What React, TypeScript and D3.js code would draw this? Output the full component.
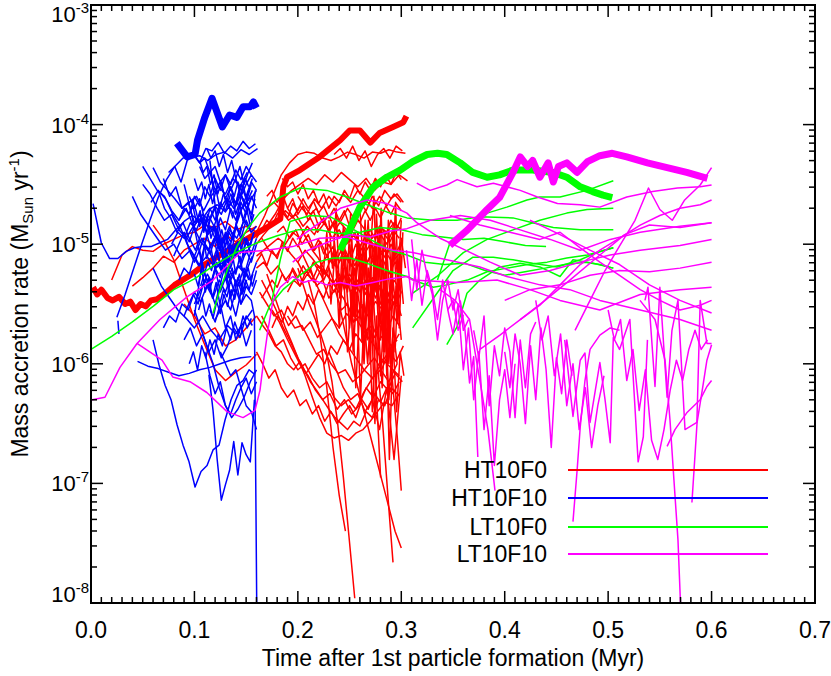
import React, { useEffect, useRef } from 'react';
import * as d3 from 'd3';

// points are [time after 1st particle formation (Myr), log10 accretion rate (MSun/yr)]
type Pt = [number, number];
// evenly sampled track: start time, time step, log10 rates
type Run = { t0: number; dt: number; v: number[] };

const xTicks = [0, 0.1, 0.2, 0.3, 0.4, 0.5, 0.6, 0.7];
const yDecades = [-8, -7, -6, -5, -4, -3];
const legendNames = ['HT10F0', 'HT10F10', 'LT10F0', 'LT10F10'];
const legendColors = ['#ff0000', '#0000ff', '#00ff00', '#ff00ff'];

// ---- thick (most massive sink) tracks ----
const redThick: Pt[] = [
  [0.002, -5.36], [0.006, -5.42], [0.01, -5.38], [0.016, -5.45], [0.021, -5.47], [0.027, -5.44],
  [0.033, -5.5], [0.038, -5.48], [0.043, -5.55], [0.048, -5.5], [0.053, -5.52], [0.058, -5.47],
  [0.064, -5.46], [0.072, -5.41], [0.081, -5.34], [0.096, -5.26], [0.11, -5.17], [0.125, -5.09],
  [0.144, -4.99], [0.16, -4.91], [0.172, -4.85], [0.183, -4.79], [0.186, -4.52], [0.1895, -4.44],
  [0.202, -4.38], [0.221, -4.27], [0.241, -4.13], [0.25, -4.05], [0.26, -4.05], [0.27, -4.15],
  [0.279, -4.07], [0.292, -4.02], [0.302, -3.98], [0.305, -3.93],
];
const blueThick: Pt[] = [
  [0.083, -4.155], [0.093, -4.27], [0.1006, -4.25], [0.103, -4.13], [0.11, -3.94], [0.117, -3.78],
  [0.127, -4.02], [0.134, -3.92], [0.141, -3.94], [0.147, -3.85], [0.154, -3.85], [0.157, -3.81],
  [0.16, -3.86],
];
const greenThick: Pt[] = [
  [0.241, -5.05], [0.25, -4.88], [0.26, -4.69], [0.273, -4.52], [0.286, -4.44], [0.299, -4.38],
  [0.311, -4.31], [0.325, -4.25], [0.335, -4.24], [0.344, -4.25], [0.357, -4.32], [0.369, -4.4],
  [0.383, -4.44], [0.395, -4.42], [0.408, -4.38], [0.427, -4.38], [0.447, -4.4], [0.46, -4.44],
  [0.473, -4.52], [0.485, -4.56], [0.495, -4.59], [0.504, -4.61],
];
const magentaThick: Pt[] = [
  [0.347, -5.01], [0.364, -4.88], [0.383, -4.71], [0.395, -4.61], [0.408, -4.4], [0.415, -4.27],
  [0.422, -4.35], [0.427, -4.3], [0.434, -4.44], [0.442, -4.32], [0.447, -4.48], [0.452, -4.35],
  [0.46, -4.32], [0.47, -4.4], [0.48, -4.31], [0.492, -4.26], [0.504, -4.24], [0.518, -4.27],
  [0.538, -4.32], [0.557, -4.36], [0.576, -4.4], [0.596, -4.45],
];

// ---- HT10F0 (red) thin tracks ----
const redRuns: Run[] = [
  { t0: 0.02, dt: 0.01, v: [-5.3, -5.09, -5.02, -5.05, -5.06, -5.0, -4.96, -4.92, -4.9, -4.84, -4.86, -4.81, -4.88, -4.85, -4.9] },
  { t0: 0.06, dt: 0.01, v: [-4.84, -4.96, -5.13, -5.38, -5.63, -5.84, -6.05, -6.14, -6.07, -6.01, -5.92] },
  { t0: 0.04, dt: 0.01, v: [-5.35, -5.28, -5.2, -5.1, -5.15, -5.05, -5.0, -4.95, -5.02, -4.92, -4.98, -4.9, -4.85] },
  { t0: 0.09, dt: 0.01, v: [-5.5, -5.6, -5.75, -5.7, -5.85, -5.8, -5.7, -5.6] },
  { t0: 0.16, dt: 0.008, v: [-4.9, -4.76, -4.59, -4.42, -4.32, -4.25, -4.23, -4.24, -4.28, -4.3, -4.27, -4.23, -4.25, -4.28, -4.23, -4.24, -4.21, -4.23, -4.24] },
  { t0: 0.235, dt: 0.006, v: [-4.25, -4.2, -4.28, -4.18, -4.3, -4.22, -4.35, -4.25, -4.2, -4.28, -4.18, -4.22] },
  { t0: 0.17, dt: 0.008, v: [-4.85, -4.75, -4.62, -4.55, -4.5, -4.45, -4.5, -4.42, -4.48, -4.4, -4.46, -4.52, -4.45, -4.55, -4.48, -4.5, -4.42, -4.47] },
  { t0: 0.16, dt: 0.007, v: [-5.0, -4.92, -4.85, -4.8, -4.72, -4.78, -4.68, -4.75, -4.62, -4.7, -4.6, -4.68, -4.58, -4.65, -4.55, -4.62, -4.7, -4.6, -4.68, -4.58, -4.65] },
  { t0: 0.16, dt: 0.007, v: [-5.1, -5.05, -5.0, -4.95, -5.0, -4.9, -4.95, -4.85, -4.92, -4.8, -4.88, -4.78, -4.85, -4.92, -4.8, -4.88, -4.95, -4.85, -4.9, -4.82, -4.88] },
  { t0: 0.165, dt: 0.007, v: [-4.95, -5.05, -5.1, -5.0, -5.08, -5.15, -5.05, -5.12, -5.2, -5.1, -5.18, -5.05, -5.15, -5.22, -5.1, -5.0, -5.12, -5.05, -5.15, -5.08] },
  { t0: 0.16, dt: 0.007, v: [-5.2, -5.15, -5.25, -5.18, -5.3, -5.22, -5.35, -5.25, -5.32, -5.2, -5.28, -5.35, -5.25, -5.4, -5.3, -5.38, -5.28, -5.35, -5.45, -5.3, -5.4] },
  { t0: 0.17, dt: 0.007, v: [-4.7, -4.65, -4.72, -4.8, -4.75, -4.85, -4.78, -4.9, -4.82, -4.95, -4.88, -5.0, -4.92, -5.05, -4.95, -5.02, -4.9, -4.98, -4.85] },
  { t0: 0.18, dt: 0.006, v: [-4.9, -4.85, -4.95, -4.88, -5.0, -4.92, -5.05, -4.98, -5.1, -5.02, -5.15, -5.05, -5.18, -5.08, -5.2, -5.1, -5.22, -5.12, -5.25, -5.15, -5.2] },
  { t0: 0.19, dt: 0.006, v: [-5.4, -5.3, -5.35, -5.22, -5.3, -5.18, -5.25, -5.12, -5.2, -5.05, -5.15, -5.0, -5.1, -4.95, -5.05, -4.92, -5.0, -4.88, -4.95] },
  { t0: 0.2, dt: 0.006, v: [-4.6, -4.68, -4.75, -4.7, -4.82, -4.76, -4.88, -4.8, -4.7, -4.78, -4.65, -4.72, -4.6, -4.68, -4.55, -4.62, -4.58, -4.65] },
  { t0: 0.163, dt: 0.007, v: [-5.4, -5.5, -5.6, -5.55, -5.68, -5.6, -5.72, -5.65, -5.78, -5.7, -5.62, -5.7, -5.58, -5.65, -5.52, -5.6, -5.48, -5.55, -5.45, -5.52] },
  { t0: 0.165, dt: 0.007, v: [-5.6, -5.72, -5.85, -5.8, -5.95, -6.05, -6.0, -6.12, -6.2, -6.15, -6.28, -6.35, -6.3, -6.38, -6.25, -6.15, -6.05, -5.95, -5.85, -5.75] },
  { t0: 0.165, dt: 0.007, v: [-5.3, -5.42, -5.55, -5.7, -5.82, -5.95, -6.1, -6.28, -6.45, -6.58, -6.62, -6.6, -6.64, -6.58, -6.55, -6.48, -6.4, -6.32, -6.35, -6.25] },
  { t0: 0.175, dt: 0.007, v: [-5.55, -5.65, -5.78, -5.9, -6.02, -6.1, -6.22, -6.3, -6.25, -6.38, -6.3, -6.42, -6.35, -6.2, -6.28, -6.15, -6.22, -6.08, -6.15] },
  { t0: 0.19, dt: 0.007, v: [-5.6, -5.7, -5.68, -5.8, -5.92, -5.88, -6.0, -6.08, -6.05, -6.15, -6.1, -6.02, -5.95, -6.05, -5.9, -5.98, -5.85] },
  { t0: 0.2, dt: 0.0055, v: [-5.2, -5.35, -5.5, -5.62, -5.75, -5.9, -6.15, -6.5, -6.95, -7.45, -7.96] },
  { t0: 0.21, dt: 0.006, v: [-5.3, -5.5, -5.8, -6.2, -6.7, -7.1, -7.4] },
  { t0: 0.255, dt: 0.005, v: [-5.4, -5.0, -5.6, -5.2, -6.1, -6.95] },
  { t0: 0.262, dt: 0.005, v: [-5.5, -5.8, -5.3, -6.0, -6.5, -7.1, -7.66] },
  { t0: 0.28, dt: 0.004, v: [-5.6, -5.3, -5.8, -6.2, -6.6, -7.06] },
  { t0: 0.24, dt: 0.006, v: [-5.5, -5.75, -6.0, -6.2, -6.4, -6.6, -6.8, -7.0, -7.2, -7.4, -7.54] },
  { t0: 0.25, dt: 0.004, v: [-5.0, -5.6, -4.9, -5.8, -5.1, -6.0, -5.0, -5.7, -5.05, -6.1, -5.2, -5.9, -5.1, -5.5] },
  { t0: 0.26, dt: 0.004, v: [-4.7, -5.3, -4.8, -5.6, -4.75, -5.4, -4.9, -5.8, -4.85, -5.5, -4.95, -5.2] },
  { t0: 0.27, dt: 0.0035, v: [-5.1, -4.6, -5.5, -4.7, -5.9, -4.8, -5.4, -4.65, -5.7, -4.9] },
  { t0: 0.235, dt: 0.005, v: [-4.95, -5.4, -5.1, -5.7, -5.2, -5.55, -5.05, -5.85, -5.25, -5.65, -5.15, -6.0, -5.35, -5.8] },
  { t0: 0.23, dt: 0.007, v: [-5.9, -6.05, -6.2, -6.3, -6.25, -6.4, -6.3, -6.55, -6.2, -6.8, -6.1] },
  { t0: 0.2, dt: 0.008, v: [-5.0, -5.15, -5.3, -5.45, -5.6, -5.75, -5.85, -5.95, -6.05, -6.12, -6.05, -6.15, -6.0] },
  { t0: 0.16, dt: 0.005, v: [-4.95, -4.88, -4.8, -4.85, -4.75, -4.7, -4.78, -4.66, -4.72, -4.62, -4.7, -4.64, -4.74, -4.68, -4.78, -4.7, -4.8, -4.72, -4.85, -4.76, -4.82, -4.72, -4.8, -4.7, -4.78, -4.68, -4.75, -4.66, -4.72] },
  { t0: 0.16, dt: 0.005, v: [-5.15, -5.08, -5.18, -5.05, -5.12, -4.98, -5.06, -4.95, -5.02, -4.9, -4.98, -5.05, -4.96, -5.08, -5.0, -5.12, -5.02, -5.15, -5.06, -5.18, -5.08, -5.2, -5.1, -5.15, -5.05, -5.12, -5.0, -5.08, -4.98] },
  { t0: 0.165, dt: 0.005, v: [-5.45, -5.38, -5.3, -5.36, -5.25, -5.32, -5.2, -5.28, -5.18, -5.25, -5.15, -5.22, -5.3, -5.2, -5.32, -5.25, -5.38, -5.28, -5.4, -5.3, -5.42, -5.32, -5.45, -5.35, -5.48, -5.38, -5.5, -5.4] },
  { t0: 0.17, dt: 0.005, v: [-4.6, -4.55, -4.65, -4.58, -4.7, -4.62, -4.75, -4.68, -4.8, -4.72, -4.85, -4.78, -4.9, -4.82, -4.95, -4.88, -4.98, -4.9, -5.02, -4.94, -4.88, -4.96, -4.85, -4.92, -4.8, -4.88, -4.78] },
  { t0: 0.175, dt: 0.005, v: [-5.7, -5.6, -5.65, -5.52, -5.6, -5.48, -5.55, -5.42, -5.5, -5.38, -5.45, -5.32, -5.4, -5.28, -5.36, -5.25, -5.32, -5.4, -5.3, -5.45, -5.35, -5.5, -5.4, -5.55, -5.45, -5.6] },
  { t0: 0.185, dt: 0.005, v: [-4.45, -4.52, -4.48, -4.58, -4.5, -4.62, -4.55, -4.66, -4.58, -4.7, -4.6, -4.65, -4.55, -4.62, -4.5, -4.58, -4.48, -4.55, -4.45, -4.52, -4.42, -4.5, -4.4, -4.46] },
  { t0: 0.16, dt: 0.006, v: [-5.9, -6.0, -6.12, -6.05, -6.2, -6.28, -6.22, -6.35, -6.3, -6.42, -6.35, -6.48, -6.4, -6.5, -6.42, -6.35, -6.45, -6.3, -6.38, -6.25, -6.32, -6.2, -6.25, -6.15] },
  { t0: 0.17, dt: 0.006, v: [-5.25, -5.4, -5.55, -5.7, -5.82, -5.95, -6.05, -6.15, -6.22, -6.3, -6.38, -6.45, -6.5, -6.55, -6.48, -6.52, -6.4, -6.45, -6.3, -6.35, -6.2, -6.25] },
  { t0: 0.22, dt: 0.004, v: [-5.0, -5.3, -4.9, -5.5, -5.05, -5.7, -5.1, -5.4, -4.95, -5.6, -5.15, -5.9, -5.2, -5.5, -5.0, -5.8, -5.25, -6.0, -5.3, -5.65, -5.1] },
  { t0: 0.23, dt: 0.0035, v: [-4.8, -5.2, -4.7, -5.45, -4.85, -5.3, -4.75, -5.6, -4.9, -5.35, -4.8, -5.7, -5.0, -5.4, -4.85, -5.9, -5.05, -5.5, -4.9, -5.3, -4.8] },
  { t0: 0.24, dt: 0.004, v: [-5.6, -5.2, -5.9, -5.4, -6.2, -5.5, -6.0, -5.3, -6.4, -5.6, -6.1, -5.45, -6.3, -5.7, -6.0] },
  { t0: 0.25, dt: 0.0035, v: [-5.3, -5.9, -5.4, -6.3, -5.6, -6.0, -5.5, -6.5, -5.7, -6.2, -5.6, -6.8, -5.8, -6.4, -5.9, -6.1] },
  { t0: 0.19, dt: 0.006, v: [-4.7, -4.78, -4.85, -4.95, -5.05, -5.12, -5.22, -5.3, -5.38, -5.45, -5.55, -5.62, -5.7, -5.78, -5.85, -5.95, -6.0, -6.05, -6.1] },
  { t0: 0.2, dt: 0.006, v: [-5.15, -5.25, -5.2, -5.35, -5.3, -5.45, -5.38, -5.55, -5.5, -5.65, -5.6, -5.72, -5.68, -5.8, -5.75, -5.85, -5.8] },
  { t0: 0.16, dt: 0.006, v: [-5.6, -5.68, -5.75, -5.85, -5.9, -6.0, -6.05, -5.98, -6.08, -6.0, -5.92, -6.0, -5.85, -5.92, -5.8, -5.88, -5.75, -5.82, -5.7, -5.78, -5.65, -5.72, -5.6, -5.68] },
];

// ---- HT10F10 (blue) thin tracks ----
const blueRuns: Run[] = [
  { t0: 0.002, dt: 0.008, v: [-4.66, -4.99, -5.12, -5.12, -5.06, -5.03, -5.02, -5.02, -4.99, -4.96, -4.88, -4.81, -4.76, -4.81, -4.71, -4.67, -4.73, -4.63, -4.7, -4.61] },
  { t0: 0.025, dt: 0.008, v: [-5.61, -5.42, -5.21, -5.0, -4.8, -4.61, -4.46, -4.35, -4.28, -4.27, -4.26, -4.3, -4.25, -4.23, -4.28, -4.21, -4.25, -4.2] },
  { t0: 0.045, dt: 0.01, v: [-5.98, -6.02, -6.04, -6.07, -6.1, -6.08, -6.05, -6.03, -6.0, -5.97, -5.95, -5.94] },
  { t0: 0.06, dt: 0.0058, v: [-5.8, -6.01, -6.18, -6.3, -6.51, -6.68, -6.82, -7.03, -6.9, -6.85, -6.72, -6.68, -6.47, -6.3, -6.18, -6.14, -6.05, -6.09] },
  { t0: 0.114, dt: 0.004, v: [-6.09, -6.39, -6.8, -7.14, -7.01, -6.89, -6.65, -6.93, -6.66, -6.76, -6.82, -6.3] },
  { t0: 0.026, dt: 0.001, v: [-5.64, -5.75] },
  { t0: 0.075, dt: 0.006, v: [-4.4, -4.35, -4.48, -4.3, -4.25, -4.32, -4.2, -4.22, -4.15, -4.24, -4.18, -4.22, -4.14, -4.2, -4.16] },
  { t0: 0.05, dt: 0.007, v: [-4.35, -4.45, -4.55, -4.6, -4.72, -4.8, -4.7, -4.85, -4.78, -4.92, -4.85, -5.0, -4.88, -4.95, -4.8, -4.9] },
  { t0: 0.058, dt: 0.007, v: [-4.65, -4.55, -4.62, -4.75, -4.85, -5.0, -5.1, -4.95, -5.05, -5.2, -5.12, -5.3, -5.18, -5.25, -5.1] },
  { t0: 0.065, dt: 0.006, v: [-4.55, -4.7, -4.78, -4.9, -4.82, -4.95, -5.05, -4.9, -4.75, -4.85, -4.7, -4.62, -4.78, -4.55, -4.68, -4.5] },
  { t0: 0.08, dt: 0.005, v: [-5.1, -5.0, -4.9, -4.98, -4.85, -4.75, -4.88, -4.7, -4.8, -4.65, -4.72, -4.58, -4.66, -4.5, -4.62, -4.48, -4.55] },
  { t0: 0.085, dt: 0.005, v: [-5.3, -5.2, -5.25, -5.1, -5.18, -5.0, -5.08, -4.95, -5.05, -4.9, -4.98, -4.85, -4.95, -4.8, -4.9, -4.85] },
  { t0: 0.09, dt: 0.005, v: [-4.9, -5.05, -5.15, -5.05, -5.25, -5.35, -5.2, -5.4, -5.28, -5.45, -5.3, -5.5, -5.35, -5.42, -5.3] },
  { t0: 0.095, dt: 0.005, v: [-4.6, -4.7, -4.62, -4.8, -4.9, -4.85, -5.0, -4.92, -5.1, -5.02, -5.18, -5.05, -5.15, -5.0] },
  { t0: 0.1, dt: 0.005, v: [-5.5, -5.4, -5.3, -5.38, -5.2, -5.28, -5.1, -5.2, -5.05, -5.15, -4.98, -5.08, -4.95] },
  { t0: 0.07, dt: 0.006, v: [-5.7, -5.6, -5.65, -5.5, -5.55, -5.4, -5.48, -5.35, -5.45, -5.3, -5.4, -5.25, -5.35, -5.2, -5.3, -5.15] },
  { t0: 0.105, dt: 0.005, v: [-4.35, -4.45, -4.4, -4.55, -4.48, -4.62, -4.52, -4.68, -4.58, -4.7, -4.62, -4.55] },
  { t0: 0.11, dt: 0.005, v: [-5.0, -4.85, -4.95, -4.78, -4.88, -4.7, -4.8, -4.65, -4.75, -4.6, -4.7] },
  { t0: 0.06, dt: 0.008, v: [-5.2, -5.35, -5.45, -5.55, -5.62, -5.7, -5.6, -5.72, -5.8, -5.68, -5.75, -5.65, -5.55] },
  { t0: 0.09, dt: 0.006, v: [-5.8, -5.7, -5.85, -5.75, -5.9, -5.8, -5.95, -5.85, -5.7, -5.78, -5.6, -5.68] },
  { t0: 0.1, dt: 0.005, v: [-4.25, -4.32, -4.28, -4.4, -4.35, -4.48, -4.42, -4.55, -4.45, -4.6, -4.5, -4.42, -4.48] },
  { t0: 0.12, dt: 0.004, v: [-4.9, -5.05, -4.95, -5.15, -5.05, -5.25, -5.1, -5.3, -5.2, -5.35, -5.22] },
  { t0: 0.115, dt: 0.005, v: [-5.55, -5.65, -5.5, -5.7, -5.6, -5.8, -5.68, -5.85, -5.72] },
  { t0: 0.125, dt: 0.005, v: [-5.9, -6.0, -6.1, -6.05, -6.2, -6.12, -6.25, -6.15] },
  { t0: 0.05, dt: 0.007, v: [-4.5, -4.58, -4.7, -4.8, -4.75, -4.88, -4.95, -4.85, -4.98, -5.05, -4.95, -5.1, -5.0, -5.05, -4.92] },
  { t0: 0.06, dt: 0.007, v: [-4.36, -4.48, -4.55, -4.62, -4.7, -4.65, -4.6, -4.72, -4.6, -4.52, -4.58, -4.45, -4.52, -4.4] },
  { t0: 0.04, dt: 0.008, v: [-4.6, -4.75, -4.85, -4.95, -5.05, -5.0, -5.12, -5.05, -5.18, -5.1, -5.2, -5.15, -5.25, -5.18, -5.28] },
  { t0: 0.1, dt: 0.006, v: [-5.55, -5.7, -5.85, -6.0, -6.2, -6.35, -6.45, -6.38, -6.28, -6.15, -6.05] },
  { t0: 0.11, dt: 0.005, v: [-5.9, -6.1, -6.25, -6.15, -6.35, -6.42, -6.3, -6.2, -6.35, -6.4, -6.55] },
  { t0: 0.1, dt: 0.0035, v: [-4.45, -4.55, -4.48, -4.62, -4.5, -4.66, -4.55, -4.7, -4.58, -4.64, -4.52, -4.6, -4.48, -4.56, -4.45, -4.52] },
  { t0: 0.095, dt: 0.0035, v: [-4.75, -4.68, -4.82, -4.72, -4.9, -4.78, -4.95, -4.85, -4.98, -4.88, -5.02, -4.9, -4.96, -4.84, -4.92, -4.8] },
  { t0: 0.105, dt: 0.0035, v: [-5.05, -4.95, -5.12, -5.0, -5.18, -5.05, -5.22, -5.1, -5.15, -5.02, -5.1, -4.98, -5.06, -4.95, -5.02, -4.9] },
  { t0: 0.1, dt: 0.0035, v: [-5.25, -5.35, -5.2, -5.4, -5.28, -5.45, -5.32, -5.5, -5.38, -5.44, -5.3, -5.4, -5.28, -5.36, -5.22, -5.3] },
  { t0: 0.105, dt: 0.0035, v: [-4.3, -4.4, -4.35, -4.5, -4.42, -4.58, -4.48, -4.62, -4.7, -4.6, -4.75, -4.65, -4.8, -4.7, -4.85, -4.75] },
  { t0: 0.104, dt: 0.0035, v: [-5.55, -5.45, -5.6, -5.5, -5.62, -5.48, -5.58, -5.42, -5.52, -5.38, -5.46, -5.32, -5.42, -5.3, -5.38, -5.25] },
  { t0: 0.098, dt: 0.0035, v: [-4.62, -4.72, -4.85, -4.78, -4.92, -5.02, -4.95, -5.1, -5.2, -5.12, -5.28, -5.2, -5.35, -5.25, -5.4, -5.3] },
  { t0: 0.106, dt: 0.0035, v: [-5.35, -5.25, -5.15, -5.22, -5.08, -5.0, -5.1, -4.92, -4.85, -4.95, -4.8, -4.72, -4.82, -4.68, -4.75, -4.62] },
  { t0: 0.07, dt: 0.006, v: [-4.45, -4.6, -4.52, -4.7, -4.65, -4.82, -4.75, -4.9, -4.85, -5.0, -4.92, -5.05, -4.98, -5.1, -5.02] },
  { t0: 0.078, dt: 0.006, v: [-5.0, -4.9, -4.95, -4.82, -4.88, -4.75, -4.8, -4.68, -4.75, -4.62, -4.7, -4.58, -4.66, -4.55] },
  { t0: 0.085, dt: 0.005, v: [-4.8, -4.7, -4.75, -4.6, -4.68, -4.52, -4.6, -4.45, -4.55, -4.42, -4.5, -4.38, -4.46, -4.35, -4.42] },
  { t0: 0.09, dt: 0.0045, v: [-5.6, -5.5, -5.42, -5.5, -5.35, -5.25, -5.32, -5.15, -5.22, -5.08, -5.15, -5.0, -5.08, -4.95, -5.02, -4.9] },
  { t0: 0.095, dt: 0.004, v: [-6.0, -5.9, -6.05, -5.85, -5.95, -5.8, -5.92, -5.75, -5.85, -5.7, -5.8, -5.65, -5.75, -5.6, -5.7, -5.62] },
  { t0: 0.112, dt: 0.004, v: [-4.2, -4.28, -4.22, -4.35, -4.25, -4.4, -4.3, -4.45, -4.35, -4.5, -4.4, -4.32] },
  { t0: 0.09, dt: 0.006, v: [-4.5, -4.7, -4.95, -5.2, -5.35, -5.5, -5.3, -5.1, -4.9, -4.75, -4.6, -4.45] },
  { t0: 0.1, dt: 0.005, v: [-5.6, -5.3, -5.0, -4.8, -4.7, -4.9, -5.2, -5.45, -5.6, -5.4, -5.2, -5.05] },
  { t0: 0.115, dt: 0.004, v: [-4.3, -4.6, -4.9, -5.1, -5.3, -5.15, -4.9, -4.7, -4.5, -4.65, -4.8, -4.55] },
];
const blueDrop: Pt[] = [
  [0.12, -5.63], [0.125, -5.55], [0.13, -5.47], [0.135, -5.55], [0.14, -5.38], [0.145, -5.5],
  [0.15, -5.42], [0.155, -5.47], [0.158, -5.6], [0.1605, -8.3],
];

// ---- LT10F0 (green) thin tracks ----
const greenA: Pt[] = [
  [0.118, -5.575], [0.1247, -5.38], [0.1325, -5.2], [0.141, -5.02], [0.152, -4.86], [0.163, -4.74],
  [0.183, -4.605], [0.202, -4.53], [0.228, -4.55], [0.2475, -4.605], [0.267, -4.67], [0.286, -4.73],
  [0.3055, -4.78], [0.331, -4.8], [0.354, -4.8], [0.376, -4.77], [0.408, -4.78], [0.427, -4.82],
  [0.447, -4.86], [0.473, -4.88], [0.505, -4.88],
];
const greenB: Run = {
  t0: 0, dt: 0.02,
  v: [-5.88, -5.77, -5.65, -5.52, -5.38, -5.29, -5.17, -5.07, -4.99, -4.93, -4.88, -4.88, -4.91, -4.9, -4.86, -4.88, -4.92, -4.94, -4.96, -4.95, -4.98, -5.01, -5.02],
};
const greenD: Pt[] = [
  [0.163, -5.72], [0.173, -5.51], [0.1856, -5.38], [0.202, -5.26], [0.2185, -5.15], [0.234, -5.115],
  [0.2504, -5.115], [0.267, -5.16], [0.286, -5.22], [0.3055, -5.27], [0.318, -5.32], [0.331, -5.36],
  [0.344, -5.34], [0.364, -5.3], [0.383, -5.23], [0.402, -5.2], [0.422, -5.17], [0.441, -5.15],
  [0.46, -5.115], [0.48, -5.09], [0.505, -5.03],
];
const greenE: Pt[] = [
  [0.175, -5.47], [0.183, -5.13], [0.1924, -4.81], [0.2118, -4.76], [0.231, -4.77], [0.2504, -4.86],
  [0.27, -4.96], [0.289, -5.05], [0.3055, -5.09], [0.323, -5.15], [0.342, -5.17], [0.3616, -5.16],
  [0.381, -5.22], [0.4, -5.26], [0.4196, -5.23], [0.439, -5.2], [0.458, -5.17], [0.4776, -5.15],
  [0.492, -5.17], [0.505, -5.2],
];
const green2: Pt[] = [
  [0.335, -5.3], [0.347, -4.99], [0.3635, -4.88], [0.383, -4.74], [0.402, -4.69], [0.4215, -4.63],
  [0.434, -4.605], [0.4535, -4.605], [0.4796, -4.55], [0.505, -4.47],
];
const green3: Pt[] = [
  [0.311, -5.41], [0.3345, -5.27], [0.36, -5.07], [0.383, -4.96], [0.408, -4.88], [0.434, -4.8],
  [0.46, -4.74], [0.4796, -4.71], [0.505, -4.7],
];
const green4: Pt[] = [
  [0.311, -5.7], [0.3345, -5.41], [0.35, -5.22], [0.369, -5.11], [0.389, -5.11], [0.408, -5.13],
  [0.427, -5.16], [0.4506, -5.19], [0.473, -5.13], [0.489, -5.07], [0.505, -5.03],
];
const green5: Pt[] = [
  [0.344, -5.84], [0.354, -5.69], [0.3635, -5.41], [0.376, -5.3], [0.3954, -5.19], [0.415, -5.16],
  [0.434, -5.19], [0.4535, -5.27], [0.466, -5.13], [0.4854, -5.16], [0.505, -5.2],
];

// ---- LT10F10 (magenta) thin tracks ----
const magentaPts: Pt[][] = [
  [[0.001, -6.3], [0.0135, -6.28], [0.028, -6.03], [0.0445, -5.83], [0.0667, -5.63], [0.0928, -5.44], [0.118, -5.3], [0.144, -5.07], [0.17, -5.05], [0.195, -5.02], [0.221, -4.95], [0.2475, -4.94], [0.267, -4.99], [0.292, -5.05], [0.311, -5.07], [0.344, -5.13], [0.376, -5.19], [0.402, -5.27], [0.434, -5.34], [0.463, -5.38], [0.492, -5.47], [0.531, -5.55], [0.5695, -5.63], [0.6, -5.72]],
  [[0.0445, -5.83], [0.0687, -5.97], [0.079, -6.11], [0.0957, -6.15], [0.112, -6.24], [0.1315, -6.4], [0.147, -6.45], [0.1586, -6.39], [0.1634, -6.22], [0.167, -5.97], [0.171, -5.72], [0.176, -5.47], [0.183, -5.36], [0.195, -5.27], [0.205, -5.32], [0.2146, -5.3], [0.228, -5.34], [0.241, -5.32], [0.256, -5.35], [0.2726, -5.32], [0.288, -5.29], [0.3055, -5.27], [0.311, -5.3], [0.354, -5.32], [0.3925, -5.3], [0.4244, -5.38], [0.4535, -5.47], [0.492, -5.55], [0.531, -5.42], [0.5695, -5.38], [0.6, -5.36]],
  [[0.199, -4.96], [0.221, -4.82], [0.241, -4.7], [0.267, -4.63], [0.286, -4.66], [0.3055, -4.74], [0.315, -4.82], [0.3375, -4.95], [0.362, -5.05], [0.386, -5.15], [0.415, -5.26], [0.444, -5.22], [0.473, -5.15], [0.502, -5.09], [0.531, -5.05], [0.5695, -5.01], [0.6, -4.96]],
  [[0.195, -5.15], [0.21, -5.05], [0.23, -4.98], [0.25, -4.92], [0.27, -4.94], [0.29, -4.89], [0.3055, -4.87], [0.328, -4.8], [0.357, -4.76], [0.386, -4.8], [0.415, -4.88], [0.444, -4.96], [0.473, -5.05], [0.502, -4.96], [0.531, -4.9], [0.5695, -4.85], [0.6, -4.82]],
  [[0.315, -4.49], [0.3277, -4.55], [0.344, -4.505], [0.354, -4.46], [0.3732, -4.52], [0.389, -4.49], [0.415, -4.55], [0.4316, -4.605], [0.451, -4.66], [0.473, -4.67], [0.492, -4.69], [0.518, -4.605], [0.543, -4.56], [0.567, -4.53], [0.589, -4.52], [0.6, -4.505]],
  [[0.468, -5.72], [0.4825, -5.47], [0.497, -5.22], [0.5114, -5.01], [0.526, -4.8], [0.539, -4.53], [0.55, -4.71], [0.562, -4.8], [0.574, -4.63], [0.589, -4.505], [0.6, -4.36]],
  [[0.347, -4.76], [0.376, -4.84], [0.405, -4.9], [0.434, -4.96], [0.4535, -4.9], [0.473, -5.03], [0.492, -5.15], [0.511, -5.26], [0.531, -5.38], [0.55, -5.47], [0.5695, -5.55], [0.589, -5.51], [0.6, -5.47]],
  [[0.376, -5.88], [0.3954, -5.76], [0.415, -5.63], [0.434, -5.51], [0.4535, -5.34], [0.473, -5.17], [0.492, -5.05], [0.511, -4.95], [0.531, -4.84], [0.55, -4.76], [0.5695, -4.7], [0.589, -4.67], [0.6, -4.63]],
  [[0.3375, -5.38], [0.352, -5.47], [0.366, -5.63], [0.376, -6.14], [0.3838, -6.55], [0.3906, -7.06]],
  [[0.357, -5.47], [0.3616, -5.72], [0.366, -6.16], [0.37, -5.94], [0.374, -6.78]],
  [[0.466, -7.32], [0.47, -6.89], [0.473, -6.53], [0.4776, -6.14], [0.4825, -5.88], [0.492, -5.76], [0.502, -5.7], [0.511, -5.72]],
  [[0.458, -5.8], [0.466, -6.44], [0.473, -5.97], [0.4776, -5.91], [0.4825, -6.49], [0.492, -5.99], [0.497, -6.3], [0.502, -6.66], [0.505, -5.78], [0.511, -5.88], [0.521, -5.63], [0.529, -6.82], [0.534, -6.61], [0.538, -5.8]],
  [[0.5356, -5.47], [0.5385, -5.36], [0.5453, -6.19], [0.55, -5.36], [0.557, -6.28], [0.5617, -5.72], [0.5675, -5.47], [0.5743, -6.55], [0.5858, -6.49], [0.589, -5.47], [0.5955, -5.83], [0.6, -5.83]],
  [[0.5308, -5.47], [0.5453, -5.63], [0.555, -5.97], [0.5598, -6.47], [0.5636, -6.97], [0.5675, -7.47], [0.5704, -8.1]],
  [[0.581, -7.16], [0.584, -6.76], [0.586, -6.49], [0.591, -6.22], [0.5955, -5.97], [0.6, -5.84]],
  [[0.557, -6.69], [0.5646, -6.55], [0.576, -6.41], [0.589, -6.3], [0.5955, -6.19], [0.6, -6.14]],
  [[0.4, -5.47], [0.4244, -5.38], [0.4535, -5.34], [0.4825, -5.26], [0.511, -5.22], [0.54, -5.23], [0.5695, -5.2], [0.6, -5.15]],
  [[0.415, -5.63], [0.439, -5.47], [0.463, -5.3], [0.492, -5.09], [0.516, -4.92], [0.54, -4.84], [0.5695, -4.86], [0.6, -4.82]],
  [[0.4244, -4.8], [0.4535, -4.92], [0.4825, -5.05], [0.511, -5.17], [0.54, -5.34], [0.5695, -5.47], [0.6, -5.575]],
];
const magentaRuns: Run[] = [
  { t0: 0.31, dt: 0.005, v: [-4.96, -5.38, -5.05, -5.26, -5.42, -5.8, -5.47, -5.3, -5.55, -5.38, -5.72, -5.63] },
  { t0: 0.37, dt: 0.005, v: [-5.72, -5.95, -5.6, -6.35, -5.85, -6.1, -5.7, -5.9, -6.45, -5.8, -6.2, -5.75, -5.65] },
  { t0: 0.4, dt: 0.005, v: [-5.9, -6.2, -5.75, -6.0, -6.5, -5.85, -6.3, -5.7, -6.05, -6.7, -5.95, -6.25, -5.8, -6.1] },
  { t0: 0.43, dt: 0.006, v: [-5.47, -5.8, -5.6, -6.1, -5.75, -6.35, -6.0, -6.55, -6.2, -6.7, -6.35, -6.1] },
  { t0: 0.5, dt: 0.006, v: [-5.55, -5.8, -5.63, -6.14, -5.88, -6.39, -6.05, -6.64, -6.8, -6.55, -6.22, -5.97, -6.14, -5.88, -5.72, -5.88, -5.8] },
  { t0: 0.345, dt: 0.005, v: [-5.55, -5.75, -5.5, -6.05, -5.7, -6.3, -5.9, -6.55, -6.1, -6.85, -6.3, -6.05, -6.45, -6.0] },
  { t0: 0.305, dt: 0.005, v: [-5.05, -5.47, -5.13, -5.51, -5.22, -5.38, -5.63, -5.3, -5.55, -5.47, -5.72, -5.59] },
];

const runPts = (r: Run): Pt[] => r.v.map((v, i) => [r.t0 + i * r.dt, v] as Pt);

const W = 831;
const H = 676;
const left = 91;
const right = 815;
const top = 5;
const bottom = 603;

export default function App() {
  const ref = useRef<SVGSVGElement>(null);

  useEffect(() => {
    const svg = d3.select(ref.current);
    svg.selectAll('*').remove();

    const x = d3.scaleLinear().domain([0, 0.7]).range([left, right]);
    const y = d3.scaleLog().domain([1e-8, 1e-3]).range([bottom, top]);
    const line = d3.line<Pt>().x(d => x(d[0])).y(d => y(Math.pow(10, d[1])));
    const font = '"Liberation Sans", Arial, Helvetica, sans-serif';

    svg.append('defs').append('clipPath').attr('id', 'plot-clip')
      .append('rect').attr('x', left).attr('y', top)
      .attr('width', right - left).attr('height', bottom - top);

    const plot = svg.append('g').attr('clip-path', 'url(#plot-clip)');

    const draw = (tracks: Pt[][], colour: string, width: number) => {
      plot.append('g').selectAll('path').data(tracks).enter().append('path')
        .attr('d', d => line(d))
        .attr('fill', 'none')
        .attr('stroke', colour)
        .attr('stroke-width', width)
        .attr('stroke-linejoin', 'round');
    };

    // HT10F0
    draw(redRuns.map(runPts), legendColors[0], 1.5);
    draw([redThick], legendColors[0], 6);
    // HT10F10
    draw([...blueRuns.map(runPts), blueDrop], legendColors[1], 1.5);
    draw([blueThick], legendColors[1], 7);
    // LT10F0
    draw([runPts(greenB), greenA, greenD, greenE, green2, green3, green4, green5], legendColors[2], 1.5);
    draw([greenThick], legendColors[2], 7);
    // LT10F10
    draw([...magentaPts, ...magentaRuns.map(runPts)], legendColors[3], 1.5);
    draw([magentaThick], legendColors[3], 7);

    // frame
    const axes = svg.append('g').attr('stroke', '#000').attr('fill', 'none');
    axes.append('rect').attr('x', left).attr('y', top)
      .attr('width', right - left).attr('height', bottom - top).attr('stroke-width', 2);

    // x ticks (bottom and top)
    const xMinor = d3.range(0, 71).map(i => i / 100);
    xMinor.forEach((t, i) => {
      const len = i % 10 === 0 ? 12 : 6;
      axes.append('line').attr('x1', x(t)).attr('x2', x(t))
        .attr('y1', bottom).attr('y2', bottom - len).attr('stroke-width', 1.5);
      axes.append('line').attr('x1', x(t)).attr('x2', x(t))
        .attr('y1', top).attr('y2', top + len).attr('stroke-width', 1.5);
    });
    // y ticks (left and right)
    yDecades.forEach(e => {
      for (let m = 1; m <= 9; m++) {
        if (e === -3 && m > 1) break;
        const v = m * Math.pow(10, e);
        const len = m === 1 ? 12 : 6;
        axes.append('line').attr('x1', left).attr('x2', left + len)
          .attr('y1', y(v)).attr('y2', y(v)).attr('stroke-width', 1.5);
        axes.append('line').attr('x1', right).attr('x2', right - len)
          .attr('y1', y(v)).attr('y2', y(v)).attr('stroke-width', 1.5);
      }
    });

    // x tick labels
    svg.append('g').selectAll('text').data(xTicks).enter().append('text')
      .attr('x', d => x(d)).attr('y', 638)
      .attr('text-anchor', 'middle')
      .attr('font-family', font).attr('font-size', 23)
      .text(d => d.toFixed(1));

    // y tick labels: 10^e
    yDecades.forEach(e => {
      let cy = y(Math.pow(10, e));
      if (e === -3) cy += 9;
      if (e === -8) cy -= 9;
      const t = svg.append('text')
        .attr('x', 89).attr('y', cy + 8)
        .attr('text-anchor', 'end')
        .attr('font-family', font).attr('font-size', 22);
      t.append('tspan').text('10');
      t.append('tspan').attr('font-size', 15).attr('dy', -9).text(String(e));
    });

    // axis titles
    svg.append('text')
      .attr('x', (left + right) / 2).attr('y', 666)
      .attr('text-anchor', 'middle')
      .attr('font-family', font).attr('font-size', 23)
      .text('Time after 1st particle formation (Myr)');

    const yt = svg.append('text')
      .attr('transform', `translate(28,${(top + bottom) / 2}) rotate(-90)`)
      .attr('text-anchor', 'middle')
      .attr('font-family', font).attr('font-size', 23);
    yt.append('tspan').text('Mass accretion rate (M');
    yt.append('tspan').attr('font-size', 15).attr('dy', 5).text('Sun');
    yt.append('tspan').attr('dy', -5).text(' yr');
    yt.append('tspan').attr('font-size', 15).attr('dy', -9).text('-1');
    yt.append('tspan').attr('dy', 9).text(')');

    // legend
    const legendRows = [470, 498, 527, 554];
    const lg = svg.append('g');
    legendNames.forEach((name, i) => {
      lg.append('text')
        .attr('x', 547).attr('y', legendRows[i] + 8)
        .attr('text-anchor', 'end')
        .attr('font-family', font).attr('font-size', 23)
        .text(name);
      lg.append('line')
        .attr('x1', 568).attr('x2', 768)
        .attr('y1', legendRows[i]).attr('y2', legendRows[i])
        .attr('stroke', legendColors[i]).attr('stroke-width', 2);
    });
  }, []);

  return (
    <svg
      ref={ref}
      width={W}
      height={H}
      style={{ position: 'absolute', left: 0, top: 0, background: '#fff' }}
    />
  );
}
